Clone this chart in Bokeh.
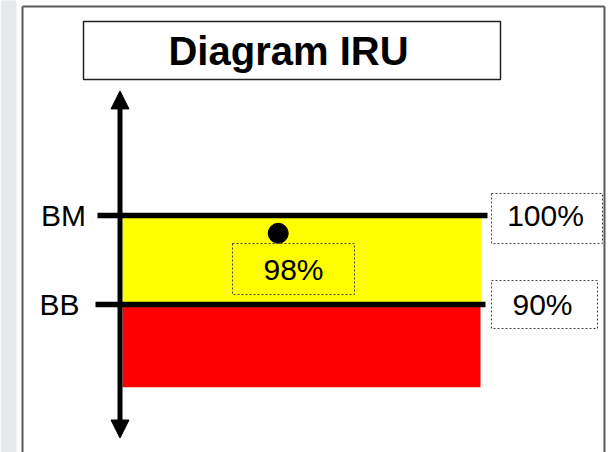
from bokeh.plotting import figure
from bokeh.models import Range1d, Arrow, NormalHead
from bokeh.core.properties import value
from bokeh.embed import file_html
from bokeh.resources import INLINE

# ---- data ----
title_text = "Diagram IRU"
level_names = ["BM", "BB"]
level_values = [100, 90]
level_labels = ["100%", "90%"]
actual_values = [98]
actual_labels = ["98%"]
red_floor = 80.7
axis_top = 114
axis_bottom = 75

# ---- layout (page pixels) ----
W, H = 608, 452
PX0, PY0 = 0, 0
Y_BM, Y_BB = 215, 304
k = (Y_BB - Y_BM) / (level_values[0] - level_values[1])


def v(py):
    return level_values[0] - (py - Y_BM) / k


p = figure(width=W, height=H, x_range=Range1d(PX0, PX0 + W),
           y_range=Range1d(v(PY0 + H), v(PY0)),
           toolbar_location=None, output_backend="svg", min_border=0,
           x_axis_type=None, y_axis_type=None)
p.outline_line_color = None
p.background_fill_color = "white"
p.border_fill_color = "white"

FONT = value("Liberation Sans")

# grey strip at left
p.quad(left=[0], right=[16], top=[v(-5)], bottom=[v(460)],
       fill_color="#e6eaea", line_color=None)

# frame border
p.multi_line(xs=[[22, 22], [22, 604], [604, 604]],
             ys=[[v(460), v(6)], [v(6), v(6)], [v(6), v(460)]],
             line_color="#5a5a5a", line_width=2)

# title box
p.quad(left=[83], right=[500], top=[v(21)], bottom=[v(79)],
       fill_color="white", line_color="#222222", line_width=1.5)
p.text(x=[288], y=[v(50)], text=[title_text], text_font=FONT,
       text_font_style="bold", text_font_size="40px",
       text_align="center", text_baseline="middle", text_color="black")

# bands
p.quad(left=[122], right=[481], top=[level_values[0]], bottom=[level_values[1]],
       fill_color="#ffff00", line_color=None)
p.quad(left=[122], right=[480], top=[level_values[1]], bottom=[red_floor],
       fill_color="#ff0000", line_color=None)

# vertical double arrow
p.add_layout(Arrow(start=NormalHead(size=18, fill_color="black", line_color="black"),
                   end=NormalHead(size=18, fill_color="black", line_color="black"),
                   x_start=119.5, y_start=axis_bottom, x_end=119.5, y_end=axis_top,
                   line_width=5, line_color="black"))

# level lines
p.segment(x0=[97, 95], x1=[487, 485], y0=level_values, y1=level_values,
          line_color="black", line_width=5.5)

# level names
p.text(x=[63, 59], y=level_values, text=level_names, text_font=FONT,
       text_font_size="30px", text_align="center", text_baseline="middle",
       text_color="black")

# right label boxes
box_l = [491, 491]
box_r = [602, 597]
box_t = [193, 280]
box_b = [243, 328]
p.quad(left=box_l, right=box_r, top=[v(t) for t in box_t],
       bottom=[v(b) for b in box_b], fill_color="white",
       line_color="#444444", line_width=1, line_dash="2 2")
p.text(x=[545, 542], y=level_values, text=level_labels, text_font=FONT,
       text_font_size="30px", text_align="center", text_baseline="middle",
       text_color="black")

# actual value dot and label
p.scatter(x=[277.7], y=actual_values, size=20, fill_color="black",
          line_color="black")
p.quad(left=[232], right=[354], top=[v(243)], bottom=[v(294)],
       fill_color=None, line_color="#444444", line_width=1, line_dash="2 2")
p.text(x=[293], y=[v(269)], text=actual_labels, text_font=FONT,
       text_font_size="30px", text_align="center", text_baseline="middle",
       text_color="black")

open("out.html", "w").write(file_html(p, INLINE))
